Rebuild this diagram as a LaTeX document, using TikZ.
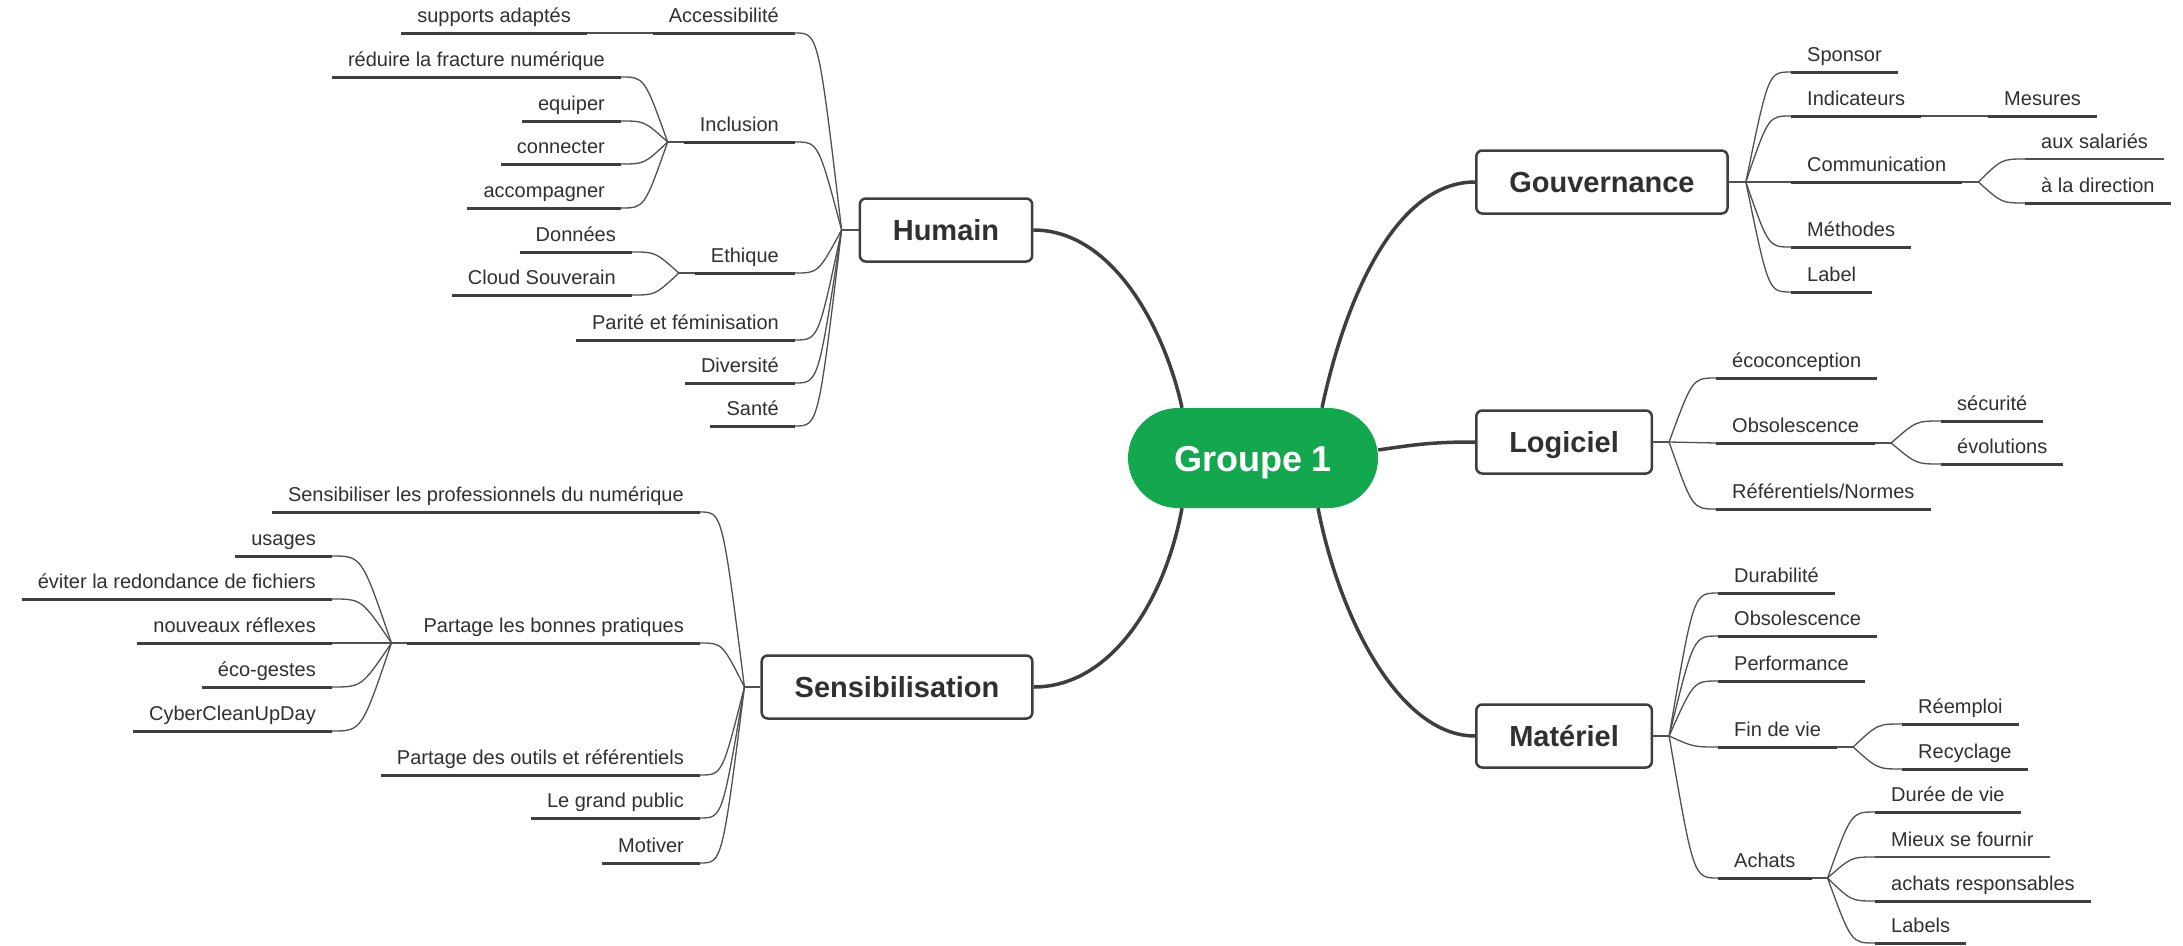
\documentclass[tikz,border=0pt]{standalone}
\usepackage{fontspec}
\setmainfont{Liberation Sans}
\usetikzlibrary{calc}
\definecolor{pillgreen}{RGB}{20,168,78}
\definecolor{ink}{RGB}{48,48,48}
\definecolor{linec}{RGB}{62,62,62}
\definecolor{thinc}{RGB}{80,80,80}
\newcommand{\leaffont}{\fontsize{20}{24}\selectfont}
\newcommand{\boxfont}{\fontsize{29}{34}\selectfont\bfseries}
\newcommand{\pillfont}{\fontsize{36}{42}\selectfont\bfseries}
\begin{document}
\begin{tikzpicture}[x=1pt,y=-1pt,
  uline/.style={draw=linec, line width=3pt},
  ulinethin/.style={draw=thinc, line width=1.4pt},
  leafbase/.style={font=\leaffont, text=ink, inner xsep=16pt, inner ysep=0pt, text height=15pt, text depth=10pt},
  leaf/.style={leafbase, append after command={(\tikzlastnode.south west) edge[uline] (\tikzlastnode.south east)}},
  leaft/.style={leafbase, append after command={(\tikzlastnode.south west) edge[ulinethin] (\tikzlastnode.south east)}},
  leafL/.style={leaf, anchor=south east},
  leafR/.style={leaf, anchor=south west},
  leafRt/.style={leaft, anchor=south west},
  mainbox/.style={draw=linec, line width=2.5pt, rounded corners=6pt, fill=white, font=\boxfont, text=ink, inner xsep=33pt, inner ysep=0pt, text height=21pt, text depth=0pt, minimum height=63pt},
  pill/.style={fill=pillgreen, rounded corners=50pt, minimum width=250pt, minimum height=100pt, inner sep=0pt, font=\pillfont, text=white, text height=26pt, text depth=0pt},
  branch/.style={draw=thinc, line width=1.3pt},
  fan/.style={branch, to path={let \p1=(\tikztostart), \p2=(\tikztotarget) in .. controls ({0.5*\x1+0.5*\x2},\y2) .. (\tikztotarget)}},
  trunk/.style={draw=linec, line width=3.5pt},
]
\fill[white] (0,0) rectangle (2183,945);
\useasboundingbox (0,0) rectangle (2183,945);

% ---------- main nodes ----------
\node[pill] (g) at (1253,458) {Groupe 1};
\node[mainbox] (hum) at (946,230) {Humain};
\node[mainbox] (sen) at (897,687) {Sensibilisation};
\node[mainbox, anchor=west] (gov) at (1475,182) {Gouvernance};
\node[mainbox, anchor=west] (log) at (1475,442) {Logiciel};
\node[mainbox, anchor=west] (mat) at (1475,736) {Matériel};

% ---------- trunks ----------
\draw[trunk] ([xshift=-71pt]g.north) .. controls +(-17,-78) and +(80,0) .. (hum.east);
\draw[trunk] ([xshift=69pt]g.north) .. controls +(23,-108) and +(-80,0) .. (gov.west);
\draw[trunk] ([yshift=8pt]g.east) .. controls +(40,-6) and +(-40,0) .. (log.west);
\draw[trunk] ([xshift=-71pt]g.south) .. controls +(-17,92) and +(78,0) .. (sen.east);
\draw[trunk] ([xshift=65pt]g.south) .. controls +(22,112) and +(-75,0) .. (mat.west);

% ---------- forks of main boxes ----------
\coordinate (fH) at ([xshift=-17pt]hum.west);
\coordinate (fS) at ([xshift=-16pt]sen.west);
\coordinate (fG) at ([xshift=17pt]gov.east);
\coordinate (fL) at ([xshift=16pt]log.east);
\coordinate (fM) at ([xshift=16pt]mat.east);
\draw[branch] (hum.west) -- (fH);
\draw[branch] (sen.west) -- (fS);
\draw[branch] (gov.east) -- (fG);
\draw[branch] (log.east) -- (fL);
\draw[branch] (mat.east) -- (fM);

% ---------- Humain ----------
\node[leafL] (acc) at (795,33) {Accessibilité};
\node[leafL] (sup) at (587,33) {supports adaptés};
\node[leafL] (inc) at (795,142) {Inclusion};
\node[leafL] (red) at (621,77) {réduire la fracture numérique};
\node[leafL] (equ) at (621,121) {equiper};
\node[leafL] (con) at (621,164) {connecter};
\node[leafL] (acm) at (621,208) {accompagner};
\node[leafL] (eth) at (795,273) {Ethique};
\node[leafL] (don) at (632,252) {Données};
\node[leafL] (clo) at (632,295) {Cloud Souverain};
\node[leafL] (par) at (795,340) {Parité et féminisation};
\node[leafL] (div) at (795,383) {Diversité};
\node[leafL] (san) at (795,426) {Santé};

\foreach \c in {acc,inc,eth,par,div,san} \draw[fan] (fH) to (\c.south east);
\draw[branch] (acc.south west) -- (sup.south east);
\coordinate (fInc) at ([xshift=-16pt]inc.south west);
\draw[branch] (inc.south west) -- (fInc);
\foreach \c in {red,equ,con,acm} \draw[fan] (fInc) to (\c.south east);
\coordinate (fEth) at ([xshift=-16pt]eth.south west);
\draw[branch] (eth.south west) -- (fEth);
\foreach \c in {don,clo} \draw[fan] (fEth) to (\c.south east);

% ---------- Sensibilisation ----------
\node[leafL] (sp1) at (700,512) {Sensibiliser les professionnels du numérique};
\node[leafL] (pbp) at (700,643) {Partage les bonnes pratiques};
\node[leafL] (usa) at (332,556) {usages};
\node[leafL] (evi) at (332,599) {éviter la redondance de fichiers};
\node[leafL] (nou) at (332,643) {nouveaux réflexes};
\node[leafL] (eco) at (332,687) {éco-gestes};
\node[leafL] (cyb) at (332,731) {CyberCleanUpDay};
\node[leafL] (pdo) at (700,775) {Partage des outils et référentiels};
\node[leafL] (lgp) at (700,818) {Le grand public};
\node[leafL] (mot) at (700,863) {Motiver};

\foreach \c in {sp1,pbp,pdo,lgp,mot} \draw[fan] (fS) to (\c.south east);
\coordinate (fPbp) at ([xshift=-16pt]pbp.south west);
\draw[branch] (pbp.south west) -- (fPbp);
\foreach \c in {usa,evi,nou,eco,cyb} \draw[fan] (fPbp) to (\c.south east);

% ---------- Gouvernance ----------
\node[leafR] (spo) at (1791,72) {Sponsor};
\node[leafR] (ind) at (1791,116) {Indicateurs};
\node[leafR] (mes) at (1988,116) {Mesures};
\node[leafR] (com) at (1791,182) {Communication};
\node[leafRt] (aux) at (2025,159) {aux salariés};
\node[leafR] (dir) at (2025,203) {à la direction};
\node[leafR] (met) at (1791,247) {Méthodes};
\node[leafR] (lab) at (1791,292) {Label};

\foreach \c in {spo,ind,com,met,lab} \draw[fan] (fG) to (\c.south west);
\draw[branch] (ind.south east) -- (mes.south west);
\coordinate (fCom) at ([xshift=16pt]com.south east);
\draw[branch] (com.south east) -- (fCom);
\foreach \c in {aux,dir} \draw[fan] (fCom) to (\c.south west);

% ---------- Logiciel ----------
\node[leafR] (ecc) at (1716,378) {écoconception};
\node[leafR] (obs) at (1716,443) {Obsolescence};
\node[leafR] (secu) at (1941,421) {sécurité};
\node[leafR] (evo) at (1941,464) {évolutions};
\node[leafR] (rfn) at (1716,509) {Référentiels/Normes};

\foreach \c in {ecc,obs,rfn} \draw[fan] (fL) to (\c.south west);
\coordinate (fObs) at ([xshift=16pt]obs.south east);
\draw[branch] (obs.south east) -- (fObs);
\foreach \c in {secu,evo} \draw[fan] (fObs) to (\c.south west);

% ---------- Matériel ----------
\node[leafR] (dur) at (1718,593) {Durabilité};
\node[leafR] (obm) at (1718,636) {Obsolescence};
\node[leafR] (per) at (1718,681) {Performance};
\node[leafR] (fin) at (1718,747) {Fin de vie};
\node[leafR] (ree) at (1902,724) {Réemploi};
\node[leafR] (rec) at (1902,769) {Recyclage};
\node[leafR] (ach) at (1718,878) {Achats};
\node[leafR] (duv) at (1875,812) {Durée de vie};
\node[leafRt] (mie) at (1875,857) {Mieux se fournir};
\node[leafR] (acr) at (1875,901) {achats responsables};
\node[leafR] (lbs) at (1875,943) {Labels};

\foreach \c in {dur,obm,per,fin,ach} \draw[fan] (fM) to (\c.south west);
\coordinate (fFin) at ([xshift=16pt]fin.south east);
\draw[branch] (fin.south east) -- (fFin);
\foreach \c in {ree,rec} \draw[fan] (fFin) to (\c.south west);
\coordinate (fAch) at ([xshift=16pt]ach.south east);
\draw[branch] (ach.south east) -- (fAch);
\foreach \c in {duv,mie,acr,lbs} \draw[fan] (fAch) to (\c.south west);
\end{tikzpicture}
\end{document}
